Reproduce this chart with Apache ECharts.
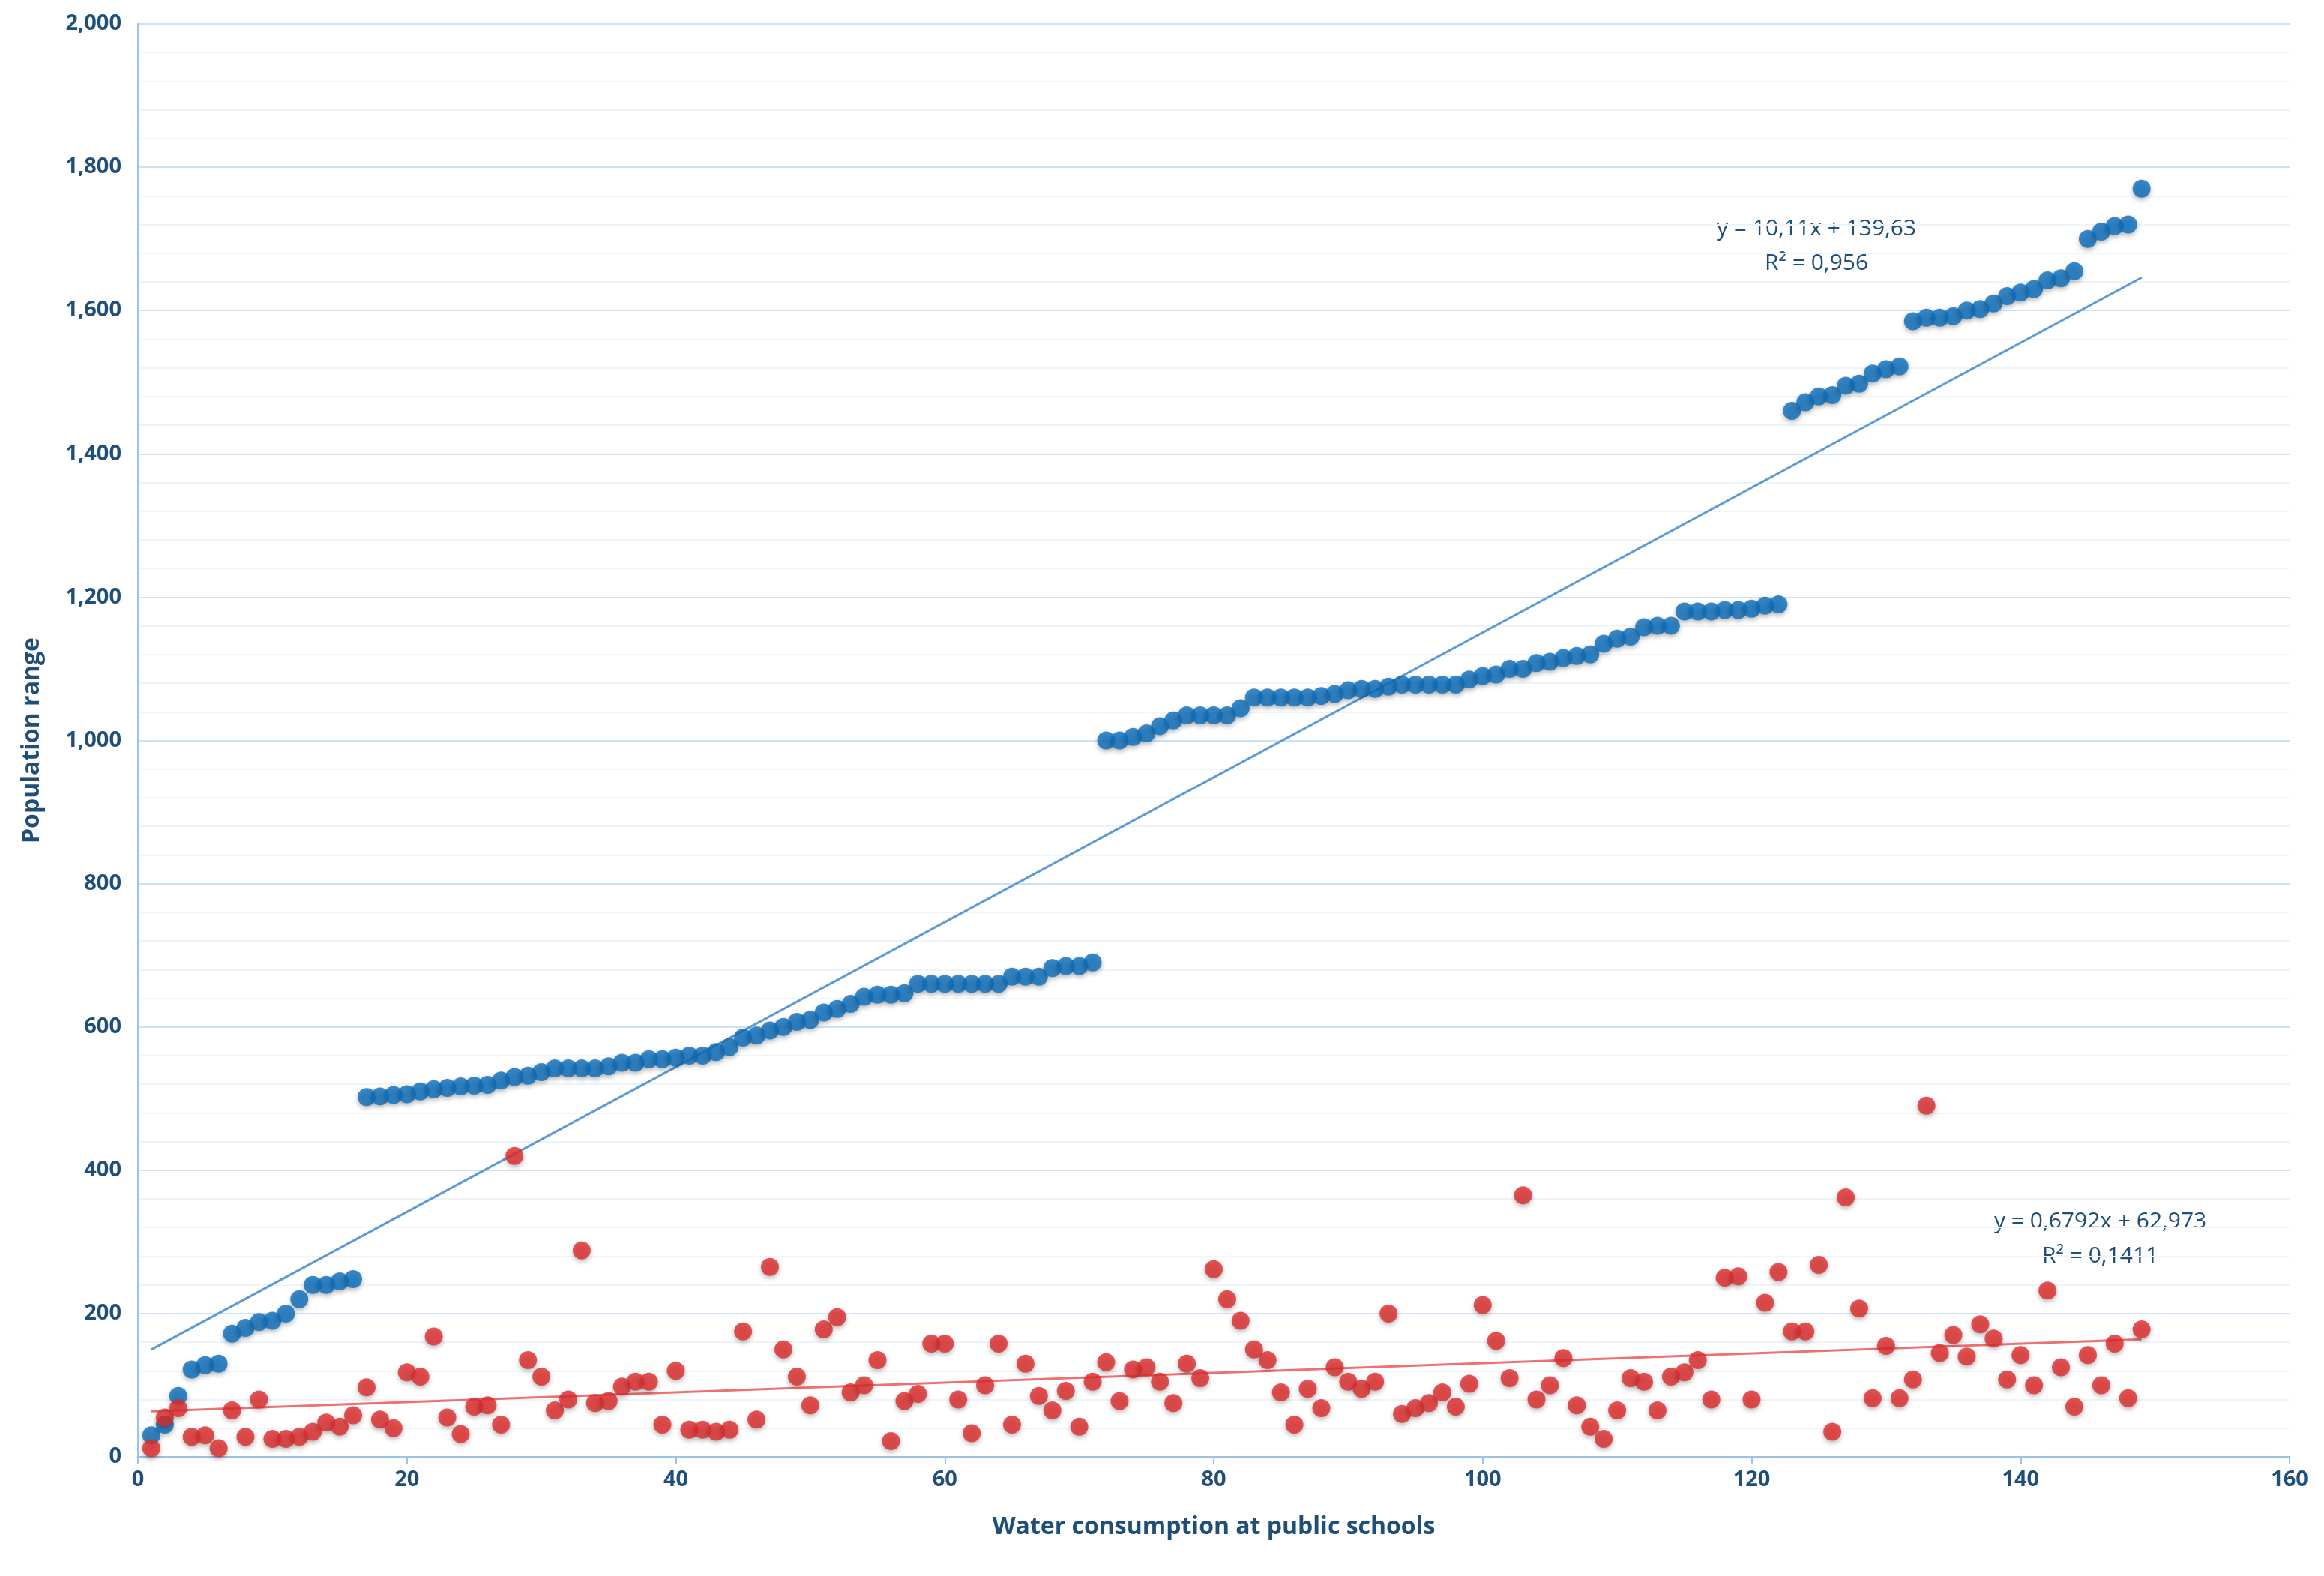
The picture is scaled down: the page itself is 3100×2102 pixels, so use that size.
<!DOCTYPE html>
<html><head><meta charset="utf-8">
<script src="https://cdn.jsdelivr.net/npm/echarts@6/dist/echarts.min.js"></script>
<style>html,body{margin:0;padding:0;background:#fff}#c{width:3100px;height:2102px}</style>
</head><body><div id="c"></div>
<script>
const blueValues = [30,45,85,122,128,130,172,180,188,190,200,220,240,240,245,248,
502,503,505,506,510,513,515,517,518,519,525,530,532,537,542,542,542,542,545,550,550,555,555,557,560,560,565,572,585,588,595,600,607,610,620,625,632,642,645,645,647,660,660,660,660,660,660,660,670,670,670,682,685,685,690,
1000,1000,1005,1010,1020,1028,1035,1035,1035,1035,1045,1060,1060,1060,1060,1060,1062,1065,1070,1072,1072,1075,1078,1078,1078,1078,1078,1085,1090,1092,1100,1100,1108,1110,1115,1118,1120,1135,1142,1145,1158,1160,1160,1180,1180,1180,1182,1182,1184,1188,1190,
1460,1472,1480,1482,1495,1498,1512,1518,1522,1585,1590,1590,1592,1600,1602,1610,1620,1625,1630,1642,1645,1655,1700,1710,1718,1720,1770];
const redValues = [12,55,68,28,30,12,65,28,80,25,25,28,35,48,42,58,97,52,40,118,112,168,55,32,70,72,45,420,135,112,65,80,288,75,78,98,105,105,45,120,38,38,35,38,175,52,265,150,112,72,178,195,90,100,135,22,78,88,158,158,80,33,100,158,45,130,85,65,92,42,105,132,78,122,125,105,75,130,110,262,220,190,150,135,90,45,95,68,125,105,95,105,200,60,68,75,90,70,102,212,162,110,365,80,100,138,72,42,25,65,110,105,65,112,118,135,80,250,252,80,215,258,175,175,268,35,362,207,82,155,82,108,490,145,170,140,185,165,108,142,100,232,125,70,142,100,158,82,178];
const xTicks = [0,20,40,60,80,100,120,140,160];
const blueTrend = {slope:10.11, intercept:139.63, label:['y = 10,11x + 139,63','R² = 0,956']};
const redTrend = {slope:0.6792, intercept:62.973, label:['y = 0,6792x + 62,973','R² = 0,1411']};

const pts = v => v.map((y,i)=>[i+1,y]);
const line = t => [[1,t.intercept+t.slope*1],[149,t.intercept+t.slope*149]];
const chart = echarts.init(document.getElementById('c'));
const txtColor = '#1f4e79';
const font = '"Open Sans", "Liberation Sans", sans-serif';
chart.setOption({
  animation:false,
  backgroundColor:'#fff',
  grid:{left:184,right:46,top:32,bottom:159},
  xAxis:{type:'value',min:0,max:160,interval:20,
    name:'Water consumption at public schools',nameLocation:'middle',nameGap:78,
    nameTextStyle:{color:txtColor,fontSize:32,fontWeight:'bold',fontFamily:font},
    axisLine:{lineStyle:{color:'#9dc3e6',width:3}},
    axisTick:{show:true,length:10,lineStyle:{color:'#9dc3e6',width:2}},
    axisLabel:{color:txtColor,fontSize:29,fontWeight:'bold',fontFamily:font,margin:16},
    splitLine:{show:false}},
  yAxis:{type:'value',min:0,max:2000,interval:200,
    name:'Population range',nameLocation:'middle',nameGap:125,
    nameTextStyle:{color:txtColor,fontSize:32,fontWeight:'bold',fontFamily:font},
    axisLine:{show:true,lineStyle:{color:'#9dc3e6',width:3}},
    axisTick:{show:false},
    axisLabel:{color:txtColor,fontSize:29,fontWeight:'bold',fontFamily:font,margin:22},
    splitLine:{lineStyle:{color:'#cfe2f3',width:2}},
    minorTick:{show:false,splitNumber:5},
    minorSplitLine:{show:true,lineStyle:{color:'#eef4fa',width:2}}},
  series:[
    {type:'line',data:line(blueTrend),symbol:'none',lineStyle:{color:'#5b9bd5',width:3},z:1},
    {type:'line',data:line(redTrend),symbol:'none',lineStyle:{color:'#f07070',width:3},z:1},
    {type:'scatter',data:pts(blueValues),symbolSize:24,itemStyle:{color:'#0a6ebd',shadowBlur:6,shadowColor:'rgba(0,0,0,0.35)',shadowOffsetY:3},z:3},
    {type:'scatter',data:pts(redValues),symbolSize:24,itemStyle:{color:'#e02a2a',shadowBlur:6,shadowColor:'rgba(0,0,0,0.35)',shadowOffsetY:3},z:3}
  ],
  graphic:[
    {type:'text',left:2290,top:282,style:{text:blueTrend.label.join('\n'),align:'center',fill:txtColor,font:'30px '+font,lineHeight:46,textAlign:'center'}},
    {type:'text',left:2660,top:1606,style:{text:redTrend.label.join('\n'),fill:txtColor,font:'30px '+font,lineHeight:46,textAlign:'center'}}
  ]
});
</script></body></html>
